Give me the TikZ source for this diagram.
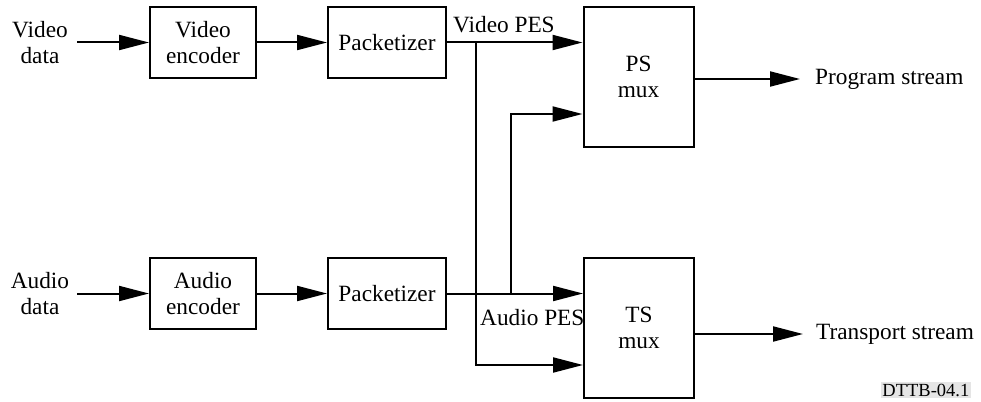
\documentclass[tikz,border=0pt]{standalone}
\usepackage{fontspec}
\setmainfont{Liberation Serif}
\usetikzlibrary{arrows.meta}
\begin{document}
\begin{tikzpicture}[x=1pt,y=-1pt,
  every node/.style={font=\fontsize{23.3}{25.5}\selectfont, inner sep=0pt, align=center},
  blk/.style={draw, line width=2pt, minimum height=71pt},
  enc/.style={blk, minimum width=106pt},
  pak/.style={blk, minimum width=118pt},
  mux/.style={blk, minimum width=110pt},
  conn/.style={line width=2pt},
  arr/.style={conn, -{Triangle[length=30pt,width=15pt]}},
  lbl/.style={anchor=west}]
\useasboundingbox (0,0) rectangle (981,401);
% nodes
\node (vdata) at (40,42.5) {Video\\data};
\node (adata) at (40,293.5) {Audio\\data};
\node[enc] (venc) at (203,42.5) {Video\\encoder};
\node[enc] (aenc) at (203,293.5) {Audio\\encoder};
\node[pak] (vpak) at (387,42.5) {Packetizer};
\node[pak] (apak) at (387,293.5) {Packetizer};
\node[mux, minimum height=140pt] (ps) at (638.5,77) {PS\\mux};
\node[mux, minimum height=140pt] (ts) at (639,328) {TS\\mux};
\node[lbl] (pstr) at (815,79) {Program stream};
\node[lbl] (tstr) at (816,334) {Transport stream};
\node[lbl] (vpes) at (453,25) {Video PES};
\node[lbl] (apes) at (480,318) {Audio PES};
\node[anchor=east, fill=black!10, inner xsep=1.5pt, inner ysep=2pt, font=\fontsize{18.5}{20}\selectfont] (ref) at (971,390) {DTTB-04.1};
% coordinates
\coordinate (vin) at (77,42.5);
\coordinate (ain) at (77,293.5);
\coordinate (vb) at (476,42.5);
\coordinate (vbl) at (476,365);
\coordinate (ab) at (511,293.5);
\coordinate (abu) at (511,114);
\coordinate (pso) at (ps.east |- 0,79);
\coordinate (tso) at (ts.east |- 0,334);
\coordinate (pse) at (800,79);
\coordinate (tse) at (803,334);
% connectors
\draw[arr] (vin) -- (venc.west);
\draw[arr] (ain) -- (aenc.west);
\draw[arr] (venc) -- (vpak);
\draw[arr] (aenc) -- (apak);
\draw[arr] (vpak.east) -- (vpak.east -| ps.west);
\draw[arr] (apak.east) -- (apak.east -| ts.west);
\draw[arr] (vb) -- (vbl) -- (vbl -| ts.west);
\draw[arr] (ab) -- (abu) -- (abu -| ps.west);
\draw[arr] (pso) -- (pse);
\draw[arr] (tso) -- (tse);
\end{tikzpicture}
\end{document}
